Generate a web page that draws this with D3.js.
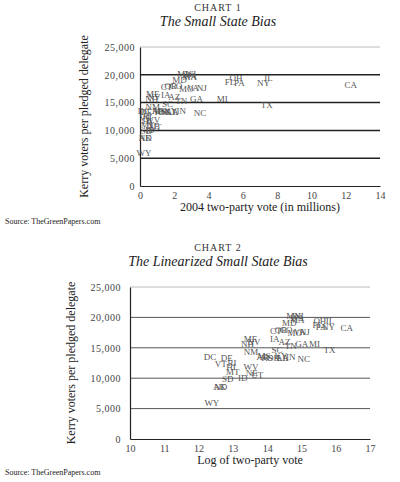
<!DOCTYPE html>
<html>
<head>
<meta charset="utf-8">
<script src="https://cdn.jsdelivr.net/npm/d3@7"></script>
<style>
  body { margin: 0; background: #fff; }
  svg { font-family: "Liberation Serif", "DejaVu Serif", serif; }
</style>
</head>
<body>
<svg id="chart" width="400" height="482"></svg>
<script>
// state labels, two-party vote (millions), Kerry voters per pledged delegate
var states = ["CA","TX","NY","IL","OH","FL","PA","MI","GA","NC","NJ","MO","VA","WA","MN","MA","WI","MD","CO","OR","CT","AZ","TN","IN","SC","AL","LA","KY","OK","KS","AR","MS","IA","ME","NH","NV","NM","WV","NE","UT","ID","MT","HI","RI","DE","VT","DC","SD","ND","AK","WY"];
var votes = [12.3,7.4,7.2,7.5,5.6,5.25,5.8,4.8,3.3,3.5,3.6,2.7,3.1,2.9,2.6,2.9,2.95,2.3,2.1,1.8,1.55,2.0,2.4,2.4,1.6,1.85,1.9,1.8,1.45,1.2,1.05,1.1,1.5,0.74,0.68,0.82,0.75,0.75,0.77,0.9,0.59,0.44,0.42,0.43,0.37,0.31,0.227,0.38,0.31,0.30,0.24];
var perDelegate = [18200,14600,18500,19500,19500,18700,18500,15600,15600,13200,17700,17500,17600,19900,20200,19600,20200,19100,18000,18000,17800,16000,15400,13500,14700,13400,13300,13600,13300,13400,13500,13600,16400,16500,15600,16000,14300,11900,10900,10600,10100,11000,11800,12600,13300,12300,13500,9900,8600,8600,5900];

var yTicks = [0,5000,10000,15000,20000,25000];
var x1Ticks = [0,2,4,6,8,10,12,14];
var x2Ticks = [10,11,12,13,14,15,16,17];

var svg = d3.select("#chart");
var fmt = d3.format(",");

function drawChart(cfg) {
  var g = svg.append("g");
  var x = d3.scaleLinear().domain(cfg.xDomain).range([cfg.left, cfg.right]);
  var y = d3.scaleLinear().domain([0, 25000]).range([cfg.bottom, cfg.top]);

  g.append("text").attr("x", cfg.cx).attr("y", cfg.top - 36)
    .attr("text-anchor", "middle").attr("font-size", 10).attr("letter-spacing", 1)
    .attr("fill", "#333").text(cfg.label);
  g.append("text").attr("x", cfg.cx).attr("y", cfg.top - 21)
    .attr("text-anchor", "middle").attr("font-size", 14).attr("font-style", "italic")
    .attr("fill", "#222").text(cfg.title);

  // gridlines
  g.selectAll(".grid").data(yTicks.filter(d => d > 0)).enter().append("line")
    .attr("x1", cfg.left).attr("x2", cfg.right)
    .attr("y1", d => y(d)).attr("y2", d => y(d))
    .attr("stroke", d => d == 25000 ? "#bbb" : cfg.gridColor)
    .attr("stroke-width", d => d == 25000 ? 1 : cfg.gridWidth);

  var yAxis = g.append("g").attr("transform", "translate(" + cfg.left + ",0)")
    .call(d3.axisLeft(y).tickValues(yTicks).tickFormat(fmt).tickSize(0).tickPadding(cfg.pad));
  yAxis.select(".domain").attr("stroke", "#222").attr("stroke-width", 1.2);
  yAxis.selectAll("text").attr("font-size", 10).attr("fill", "#444")
    .attr("font-family", "Liberation Serif, serif").attr("letter-spacing", 0.5);

  var xAxis = g.append("g").attr("transform", "translate(0," + cfg.bottom + ")")
    .call(d3.axisBottom(x).tickValues(cfg.xTicks).tickFormat(d3.format("d")).tickSize(0).tickPadding(6));
  xAxis.select(".domain").attr("stroke", "#222").attr("stroke-width", 1.2);
  xAxis.selectAll("text").attr("font-size", 10).attr("fill", "#444")
    .attr("font-family", "Liberation Serif, serif");

  g.append("text").attr("x", (cfg.left + cfg.right) / 2).attr("y", cfg.bottom + 25)
    .attr("text-anchor", "middle").attr("font-size", 12).attr("fill", "#222").text(cfg.xTitle);
  g.append("text").attr("transform", "translate(" + cfg.yTitleX + "," + ((cfg.top + cfg.bottom) / 2) + ") rotate(-90)")
    .attr("text-anchor", "middle").attr("font-size", 12).attr("fill", "#222")
    .text("Kerry voters per pledged delegate");

  g.selectAll(".st").data(states).enter().append("text")
    .attr("x", (d, i) => x(cfg.xVal(votes[i])))
    .attr("y", (d, i) => y(perDelegate[i]))
    .attr("dy", "0.35em").attr("text-anchor", "middle")
    .attr("font-size", 9).attr("fill", "#555").text(d => d);

  g.append("text").attr("x", 5).attr("y", cfg.sourceY).attr("font-size", 8)
    .attr("fill", "#222").text("Source: TheGreenPapers.com");
}

drawChart({
  label: "CHART 1", title: "The Small State Bias", cx: 218,
  left: 140, right: 380, top: 47, bottom: 186, pad: 5, yTitleX: 88,
  xDomain: [0, 14], xTicks: x1Ticks, xVal: v => v,
  xTitle: "2004 two-party vote (in millions)",
  gridColor: "#222", gridWidth: 1.5, sourceY: 224
});
drawChart({
  label: "CHART 2", title: "The Linearized Small State Bias", cx: 218,
  left: 130, right: 370, top: 287, bottom: 439, pad: 9, yTitleX: 75,
  xDomain: [10, 17], xTicks: x2Ticks, xVal: v => Math.log(v * 1e6),
  xTitle: "Log of two-party vote",
  gridColor: "#555", gridWidth: 1, sourceY: 475
});
</script>
</body>
</html>
